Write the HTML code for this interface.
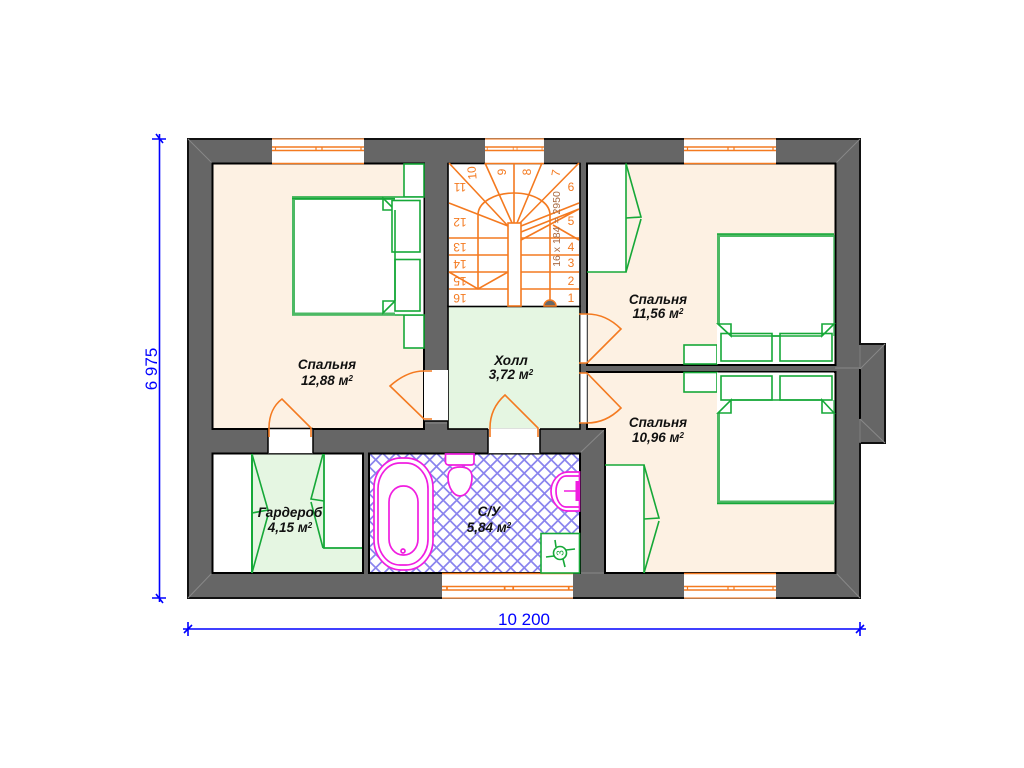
<!DOCTYPE html>
<html><head><meta charset="utf-8"><style>
html,body{margin:0;padding:0;background:#fff}
svg{display:block}
.l{font:italic bold 13.5px "Liberation Sans",sans-serif;fill:#111;text-anchor:middle}
.n{font:12px "Liberation Sans",sans-serif;fill:#f47a20;text-anchor:middle}
.d{font:17px "Liberation Sans",sans-serif;fill:#00f;text-anchor:middle}
.g{fill:none;stroke:#16a838;stroke-width:1.6}
.gw{fill:#fff;stroke:#16a838;stroke-width:1.6}
.o{fill:none;stroke:#f47a20;stroke-width:1.6}
.m{fill:none;stroke:#f01ee0;stroke-width:1.7}
</style></head><body>
<svg width="1024" height="768" viewBox="0 0 1024 768" xmlns="http://www.w3.org/2000/svg">
<defs>
<pattern id="h" width="13.5" height="13.5" patternUnits="userSpaceOnUse" patternTransform="translate(369 453)">
<path d="M0 0L13.5 13.5M13.5 0L0 13.5" stroke="#8a84ee" stroke-width="1.7"/>
</pattern>
<g id="win">
<rect x="0" y="0" width="92" height="24.5" fill="#fff"/>
<path d="M0 0H92" stroke="#f9a060" stroke-width="1.6"/>
<path d="M0 24.5H92" stroke="#f47a20" stroke-width="1.4"/>
<path d="M0 8H92M0 11.5H92" stroke="#f47a20" stroke-width="1.4"/>
<path d="M3.500 8V11.500M44 8V11.500M50 8V11.500M89 8V11.500" stroke="#f47a20" stroke-width="1.2"/>
</g>
<g id="winb">
<rect x="0" y="0" width="92" height="24.5" fill="#fff"/>
<path d="M0 0H92" stroke="#f47a20" stroke-width="1.4"/>
<path d="M0 24.5H92" stroke="#f9a060" stroke-width="1.6"/>
<path d="M0 13H92M0 16.5H92" stroke="#f47a20" stroke-width="1.4"/>
<path d="M3.500 13V16.500M44 13V16.500M50 13V16.500M89 13V16.500" stroke="#f47a20" stroke-width="1.2"/>
</g>
</defs>
<rect width="1024" height="768" fill="#fff"/>

<!-- walls -->
<path d="M188 139H860V344H885V443H860V598H188Z" fill="#666" stroke="#111" stroke-width="2"/>
<path d="M860 345V443" stroke="#777" stroke-width="1.5"/>
<path d="M860 369V419" stroke="#000" stroke-width="2"/>
<path d="M188 139L212 163M860 139L836 163M188 598L212 573M860 598L836 573M860 369L885 344M860 419L885 443M835 368H860M605 429L580 453M580 573H605M424 423H448" stroke="#888" stroke-width="1" fill="none"/>

<!-- rooms -->
<rect x="212.5" y="163.5" width="211.5" height="265.5" fill="#fdf1e3" stroke="#000" stroke-width="2"/>
<rect x="587" y="163.5" width="248.5" height="201.5" fill="#fdf1e3" stroke="#000" stroke-width="2"/>
<path d="M587 372H835.5V573H605V429H587Z" fill="#fdf1e3" stroke="#000" stroke-width="2"/>
<rect x="448" y="306" width="132" height="123" fill="#e5f6e2" stroke="#000" stroke-width="1.6"/>
<rect x="212.5" y="453.5" width="150.5" height="119.5" fill="#e5f6e2" stroke="#000" stroke-width="2"/>
<rect x="369" y="453.5" width="211" height="119.5" fill="#fff" stroke="#000" stroke-width="2"/>
<rect x="370" y="454.5" width="209" height="117.5" fill="url(#h)"/>
<rect x="448" y="163.5" width="132" height="143" fill="#fff" stroke="#000" stroke-width="1.6"/>

<!-- door openings -->
<rect x="268" y="428.2" width="45" height="25" fill="#fff"/>
<path d="M268 429V453M313 429V453M268 428.5H313" stroke="#000" stroke-width="1.5"/>
<rect x="488" y="428.2" width="52" height="25" fill="#fff"/>
<path d="M488 429V453M540 429V453" stroke="#000" stroke-width="1.5"/>
<rect x="424" y="370" width="24" height="51" fill="#fff"/>
<path d="M424 421H448" stroke="#000" stroke-width="1.5"/>
<rect x="580.5" y="314" width="6.5" height="49" fill="#fff"/>
<rect x="580.5" y="373" width="6.5" height="50" fill="#fff"/>
<path d="M580.5 314V363M587 314V363M580.5 373V423M587 373V423" stroke="#999" stroke-width="1"/>

<!-- windows -->
<use href="#win" x="272" y="139"/>
<use href="#win" transform="translate(485 139) scale(.641 1)"/>
<use href="#win" x="684" y="139"/>
<use href="#winb" x="684" y="573.5"/>
<use href="#winb" transform="translate(442 573.5) scale(1.424 1)"/>

<!-- stairs -->
<path class="o" d="M449 238H508M449 255H508M449 272H508M449 289H508M521 238H579M521 255H579M521 272H579M521 289H579"/>
<path class="o" d="M449 163L508 226M449 203L508 226M485 163L512 223M514 163V223M542 163L517 223M579 163L520 223M579 203L521 226M579 209L521 232M521 240L579 209M553 225L579 240"/>
<path class="o" d="M478 289V215C478 202 495 193 514 193C533 193 550 202 550 215V306"/>
<path class="o" d="M449 272L478 289L508 272"/>
<rect x="508" y="223" width="13" height="83" fill="#fff" stroke="#f47a20" stroke-width="1.6"/>
<path d="M544 306A6 6 0 0 1 556 306Z" fill="#666" stroke="#f47a20" stroke-width="1.5"/>
<g class="n">
<text x="571" y="302">1</text><text x="571" y="285">2</text><text x="571" y="267">3</text><text x="571" y="251">4</text><text x="571" y="225">5</text><text x="571" y="191">6</text>
<text transform="translate(556 173) rotate(-80)" y="4">7</text>
<text transform="translate(527 172) rotate(-90)" y="4">8</text>
<text transform="translate(502 172) rotate(-90)" y="4">9</text>
<text transform="translate(472 173) rotate(-95)" y="4">10</text>
<text transform="translate(460 187) rotate(180)" y="4">11</text>
<text transform="translate(460 222) rotate(180)" y="4">12</text>
<text transform="translate(460 247) rotate(180)" y="4">13</text>
<text transform="translate(460 264) rotate(180)" y="4">14</text>
<text transform="translate(460 281) rotate(180)" y="4">15</text>
<text transform="translate(460 298) rotate(180)" y="4">16</text>
</g>
<text transform="translate(556 229) rotate(-90)" y="4" style="font:10.5px 'Liberation Sans',sans-serif;fill:#a86a42;text-anchor:middle">16 x 184 = 2950</text>

<!-- door swings -->
<path class="o" d="M269 437V428C269 415 274 405 282 399L311 428V437"/>
<path class="o" d="M490 437V428C490 413 496 403 505 395L538 428V437"/>
<path class="o" d="M432 371H424C410 371 399 378 390 386L424 419H432"/>
<path class="o" d="M579 314H587C602 314 613 321 621 329L587 363M579 363H587"/>
<path class="o" d="M579 373H587L621 408C613 416 602 423 587 423H579"/>

<!-- left bedroom furniture -->
<rect class="gw" x="404" y="164" width="20" height="33"/>
<rect class="gw" x="404" y="315" width="20" height="33"/>
<rect x="292" y="197" width="131.5" height="118" fill="#fff"/>
<path d="M292 197H423.5M292 315H423.5" stroke="#16a838" stroke-width="1.5"/>
<path d="M395 198.500H293.500V314H395" fill="none" stroke="#4cb964" stroke-width="3"/>
<path class="g" d="M292 198.500H395"/>
<path class="g" d="M383 198V210H395ZM383 313V301H395Z"/>
<rect class="gw" x="392" y="200.500" width="28" height="51.500"/>
<rect class="gw" x="395" y="259.500" width="25" height="51.500"/>
<path class="g" d="M395 210V301"/>

<!-- right beds -->
<rect class="gw" x="684" y="345" width="33" height="19"/>
<rect class="gw" x="684" y="372.500" width="33" height="19.500"/>
<rect x="717" y="234" width="117" height="130" fill="#fff"/>
<rect x="717" y="372.500" width="117" height="131" fill="#fff"/>
<path d="M718.500 324V235.500H834" fill="none" stroke="#4cb964" stroke-width="3"/>
<path class="g" d="M717 234H834"/>
<path d="M834 235V336" stroke="#4cb964" stroke-width="1.5"/>
<path class="g" d="M731 336H822"/>
<rect class="gw" x="721" y="333.500" width="51" height="27.500"/>
<rect class="gw" x="780" y="333.500" width="52" height="27.500"/>
<path class="g" d="M718 324H731V336ZM834 324H822V336Z"/>
<path class="g" d="M731 336H822"/>
<path d="M718.500 413V502H834" fill="none" stroke="#4cb964" stroke-width="3"/>
<path class="g" d="M717 503.500H834"/>
<path d="M834 400V503" stroke="#4cb964" stroke-width="1.5"/>
<rect class="gw" x="721" y="376" width="51" height="24"/>
<rect class="gw" x="780" y="376" width="52" height="24"/>
<path class="g" d="M731 400H822"/>
<path class="g" d="M718 413H731V400ZM834 413H822V400Z"/>

<!-- closets -->
<path d="M588 164.500H625.500V272H588Z" fill="#fff"/>
<path class="g" d="M587 272H626V163.500"/>
<path class="g" d="M626 163.500L641 217L626 218M641 219L626 272"/>
<path d="M606 465H644V572H606Z" fill="#fff"/>
<path class="g" d="M605 465H644V573"/>
<path class="g" d="M644 465L659 518L644 519M659 521L644 573"/>
<rect x="213.500" y="454.500" width="38.500" height="117.500" fill="#fff"/>
<path d="M252 454V573" stroke="#16a838" stroke-width="2"/>
<path class="g" d="M252 454L268 510L252 513M268 515L252 573"/>
<path d="M324 454.500H362V548H324Z" fill="#fff"/>
<path d="M324 454V548H362" fill="none" stroke="#16a838" stroke-width="1.8"/>
<path class="g" d="M323 454L311 499L324 501M311 502L323 548"/>

<!-- bathroom fixtures -->
<rect class="m" x="374" y="458" width="59" height="112" rx="27" ry="30" style="fill:#fff"/>
<rect class="m" x="378" y="463" width="50" height="102" rx="22" ry="26"/>
<rect class="m" x="389" y="486" width="29" height="69" rx="14" ry="16"/>
<circle class="m" cx="403" cy="551" r="2"/>
<path d="M445.500 454V462C445.500 464 447 465 449 465H471C473 465 474 464 474 462V454Z" fill="#fff" stroke="#f01ee0" stroke-width="1.7"/>
<path d="M448 477C448 470 453 467 460 467C467 467 472 470 472 477C472 488 466 496 460 496C454 496 448 488 448 477Z" fill="#fff" stroke="#f01ee0" stroke-width="1.7"/>
<path d="M579.500 472H568C558 472 551 482 551 491C551 501 558 511 568 511H579.500Z" fill="#fff" stroke="#f01ee0" stroke-width="1.7"/>
<path class="m" d="M579 476H566C560 476 556 484 556 491C556 499 560 507 566 507H579"/>
<path d="M564 491H576" stroke="#f01ee0" stroke-width="1.5"/>
<path d="M577.500 481V501" stroke="#f01ee0" stroke-width="4"/>
<rect class="gw" x="541" y="533.500" width="38.500" height="39.500"/>
<circle class="g" cx="560" cy="553" r="6.500"/>
<path class="g" d="M556 547L555 540M566 550L575 549M563 559L565 567M554 556L546 557"/>
<text transform="translate(560 553) rotate(-90)" y="3.500" style="font:10px 'Liberation Sans',sans-serif;fill:#16a838;text-anchor:middle">3</text>

<!-- labels -->
<text class="l" x="327" y="369">Спальня</text>
<text class="l" x="327" y="385">12,88 м<tspan dy="-4" font-size="8">2</tspan></text>
<text class="l" x="658" y="304">Спальня</text>
<text class="l" x="658" y="318">11,56 м<tspan dy="-4" font-size="8">2</tspan></text>
<text class="l" x="658" y="427">Спальня</text>
<text class="l" x="658" y="442">10,96 м<tspan dy="-4" font-size="8">2</tspan></text>
<text class="l" x="511" y="365">Холл</text>
<text class="l" x="511" y="379">3,72 м<tspan dy="-4" font-size="8">2</tspan></text>
<text class="l" x="290" y="517">Гардероб</text>
<text class="l" x="290" y="532">4,15 м<tspan dy="-4" font-size="8">2</tspan></text>
<text class="l" x="489" y="516">С/У</text>
<text class="l" x="489" y="532">5,84 м<tspan dy="-4" font-size="8">2</tspan></text>

<!-- dimensions -->
<g stroke="#00f" stroke-width="1.6" fill="none">
<path d="M159.500 134V602M152 139H166M152 598H166M156 134L163 143M156 594L163 603"/>
<path d="M183 629H866M188 622V636M860 622V636M184 633L192 625M856 633L864 625"/>
</g>
<text class="d" transform="translate(157 369) rotate(-90)">6 975</text>
<text class="d" x="524" y="625">10 200</text>
</svg>
</body></html>
